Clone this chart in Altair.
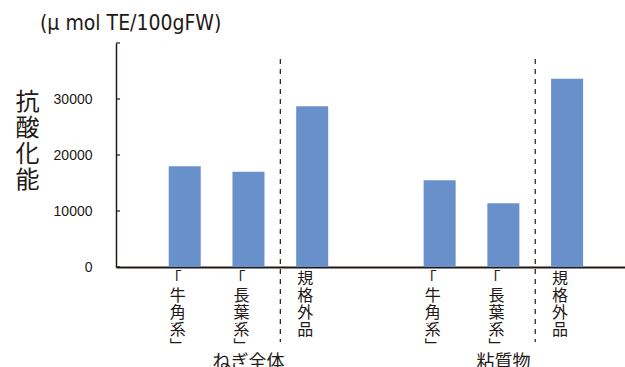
import altair as alt
import pandas as pd

# ---- data ----
groups = ["ねぎ全体", "ねぎ全体", "ねぎ全体", "粘質物", "粘質物", "粘質物"]
categories = ["「牛角系」", "「長葉系」", "規格外品", "「牛角系」", "「長葉系」", "規格外品"]
values = [18000, 17000, 28700, 15500, 11400, 33600]
slots = [1, 2, 3, 5, 6, 7]
y_ticks = [0, 10000, 20000, 30000, 40000]
divider_slots = [2.5, 6.5]
group_names = ["ねぎ全体", "粘質物"]
group_slots = [2, 6]
unit_label = "(μ mol TE/100gFW)"
y_title = "抗酸化能"

INK = "#231815"
BAR = "#6890CA"
JP = "Noto Sans CJK JP"
NUM = "Liberation Sans"
COND = "DejaVu Sans Condensed, Liberation Sans Narrow, Liberation Sans"


def vertical(s):
    return "\n".join(s.replace("「", "｢").replace("」", "﹂"))


bars_df = pd.DataFrame({
    "group": groups,
    "category": categories,
    "value": values,
    "slot": slots,
    "vlabel": [vertical(c) for c in categories],
})
ticks_df = pd.DataFrame({"value": y_ticks})
div_df = pd.DataFrame({"slot": divider_slots})
grp_df = pd.DataFrame({"slot": group_slots, "name": group_names})
unit_df = pd.DataFrame({"t": [unit_label]})

x_enc = alt.X(
    "slot:Q",
    scale=alt.Scale(domain=[0, 7.83], nice=False, zero=False),
    axis=alt.Axis(labels=False, ticks=False, grid=False, title=None,
                  domainColor=INK, domainWidth=2),
)
y_enc = alt.Y(
    "value:Q",
    scale=alt.Scale(domain=[0, 40000], nice=False),
    axis=alt.Axis(
        values=y_ticks, format="d",
        labelExpr="datum.value >= 40000 ? '' : datum.label",
        ticks=False, grid=False, labelPadding=24,
        labelFont=NUM, labelFontSize=14, labelColor=INK,
        domainColor=INK, domainWidth=1.5,
        title=list(y_title), titleAngle=0, titleX=-89, titleY=47,
        titleAlign="center", titleBaseline="top", titleFontSize=24,
        titleLineHeight=26, titleFont=JP, titleFontWeight="normal",
        titleColor=INK,
    ),
)

bars = alt.Chart(bars_df).mark_bar(size=32, color=BAR).encode(x=x_enc, y=y_enc)

ticks = alt.Chart(ticks_df).mark_rule(color=INK, strokeWidth=1.2).encode(
    y=y_enc, x=alt.value(0), x2=alt.value(4)
)

dividers = alt.Chart(div_df).mark_rule(
    color=INK, strokeWidth=1.2, strokeDash=[5, 5]
).encode(x=x_enc, y=alt.value(16), y2=alt.value(299))

cat_labels = alt.Chart(bars_df).mark_text(
    lineBreak="\n", baseline="top", align="center", dx=-7,
    fontSize=16, lineHeight=17, font=JP, color=INK,
).encode(x=x_enc, y=alt.value(228), text="vlabel:N")

grp_labels = alt.Chart(grp_df).mark_text(
    baseline="middle", align="center", fontSize=18, font=JP, color=INK,
).encode(x=x_enc, y=alt.value(320), text="name:N")

unit = alt.Chart(unit_df).mark_text(
    baseline="middle", align="left", fontSize=21,
    font=COND, color=INK,
).encode(x=alt.value(-76), y=alt.value(-19), text="t:N")

chart = alt.layer(bars, ticks, dividers, cat_labels, grp_labels, unit).properties(
    width=509,
    height=224,
    autosize=alt.AutoSizeParams(type="none"),
    padding={"left": 116, "top": 43, "right": 0, "bottom": 100},
    background="white",
).configure_view(stroke=None)

chart.save("out.html", embed_options={"renderer": "svg", "actions": False})
